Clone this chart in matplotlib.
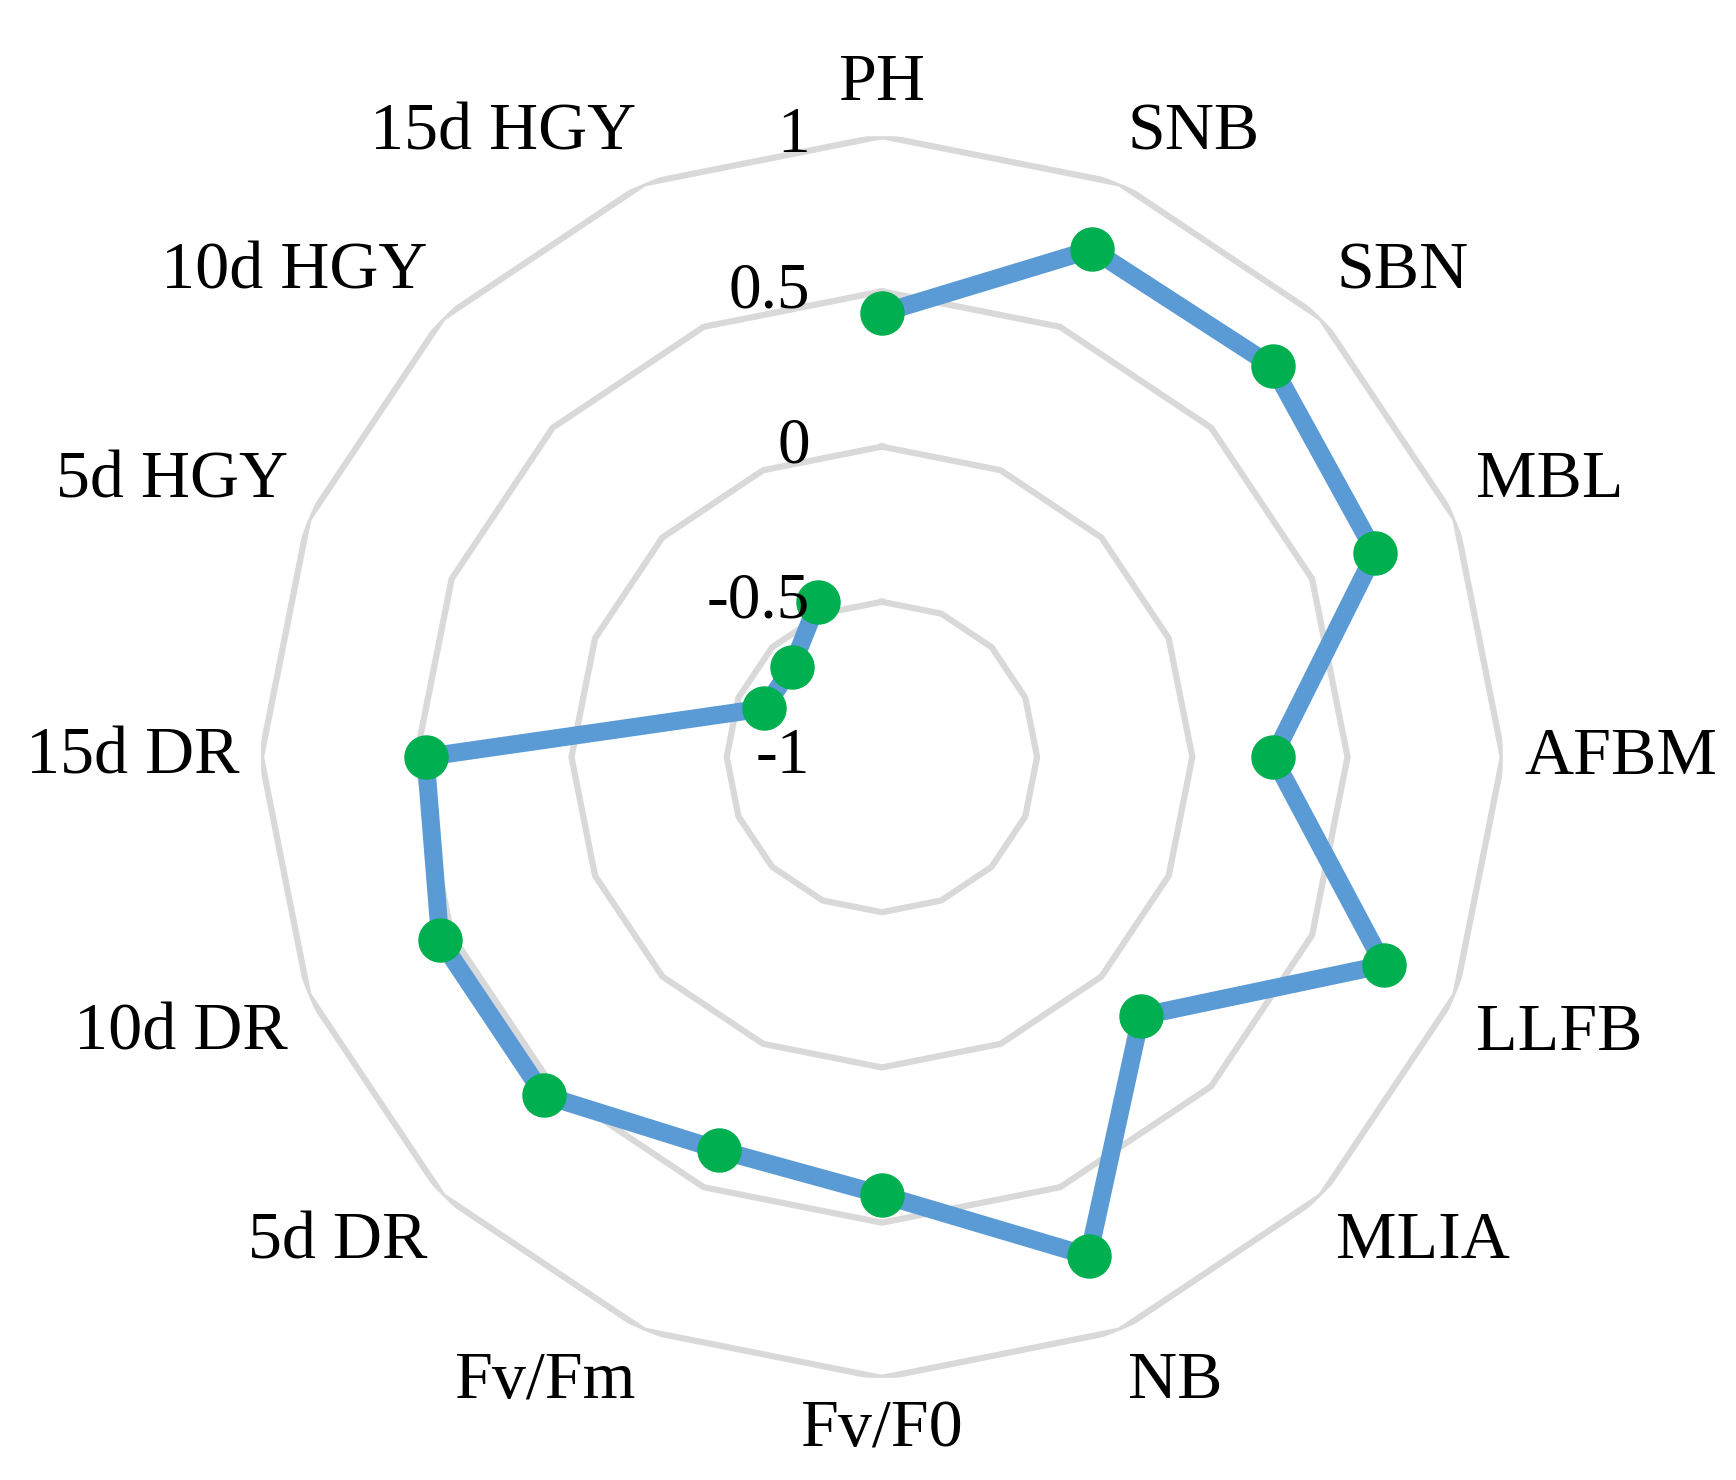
import numpy as np
import matplotlib
matplotlib.use("Agg")
import matplotlib.pyplot as plt
from matplotlib.transforms import offset_copy

categories = ["PH", "SNB", "SBN", "MBL", "AFBM", "LLFB", "MLIA", "NB", "Fv/F0",
              "Fv/Fm", "5d DR", "10d DR", "15d DR", "5d HGY", "10d HGY", "15d HGY"]
values = [0.43, 0.77, 0.78, 0.72, 0.26, 0.75, 0.18, 0.74, 0.41,
          0.37, 0.54, 0.54, 0.47, -0.59, -0.59, -0.46]
ticks = [-1, -0.5, 0, 0.5, 1]
tick_labels = ["-1", "-0.5", "0", "0.5", "1"]

plt.rcParams['font.family'] = ['Liberation Serif', 'DejaVu Serif']
fig = plt.figure(figsize=(17.36, 14.8), dpi=100)
ax = fig.add_axes([0.150, 0.069, 0.716, 0.839], projection='polar')
ax.set_theta_zero_location('N')
ax.set_theta_direction(-1)
ax.set_ylim(-1, 1)
ax.grid(False)
ax.spines['polar'].set_visible(False)
ax.set_xticks([]); ax.set_yticks([])

n = len(categories)
ang = np.linspace(0, 2 * np.pi, n, endpoint=False)
angc = np.append(ang, ang[0])
for t in ticks[1:]:
    ax.plot(angc, [t] * (n + 1), color='#D9D9D9', lw=4.5, zorder=1)

ax.plot(ang, values, color='#5B9BD5', lw=13, zorder=2, solid_joinstyle='miter')
ax.plot(ang, values, 'o', color='#00B050', ms=31, zorder=3)

for a, lab in zip(ang, categories):
    s, c = np.sin(a), np.cos(a)
    ha = 'center' if abs(s) < 0.2 else ('left' if s > 0 else 'right')
    va = 'center' if abs(c) < 0.2 else ('bottom' if c > 0 else 'top')
    ax.text(a, 1.07, lab, ha=ha, va=va, fontsize=49)

tr = offset_copy(ax.transData, fig=fig, x=-52, y=0, units='points')
for t, tl in zip(ticks, tick_labels):
    ax.text(0, t, tl, ha='right', va='center', fontsize=47, transform=tr)

fig.savefig("out.png", dpi=100)
